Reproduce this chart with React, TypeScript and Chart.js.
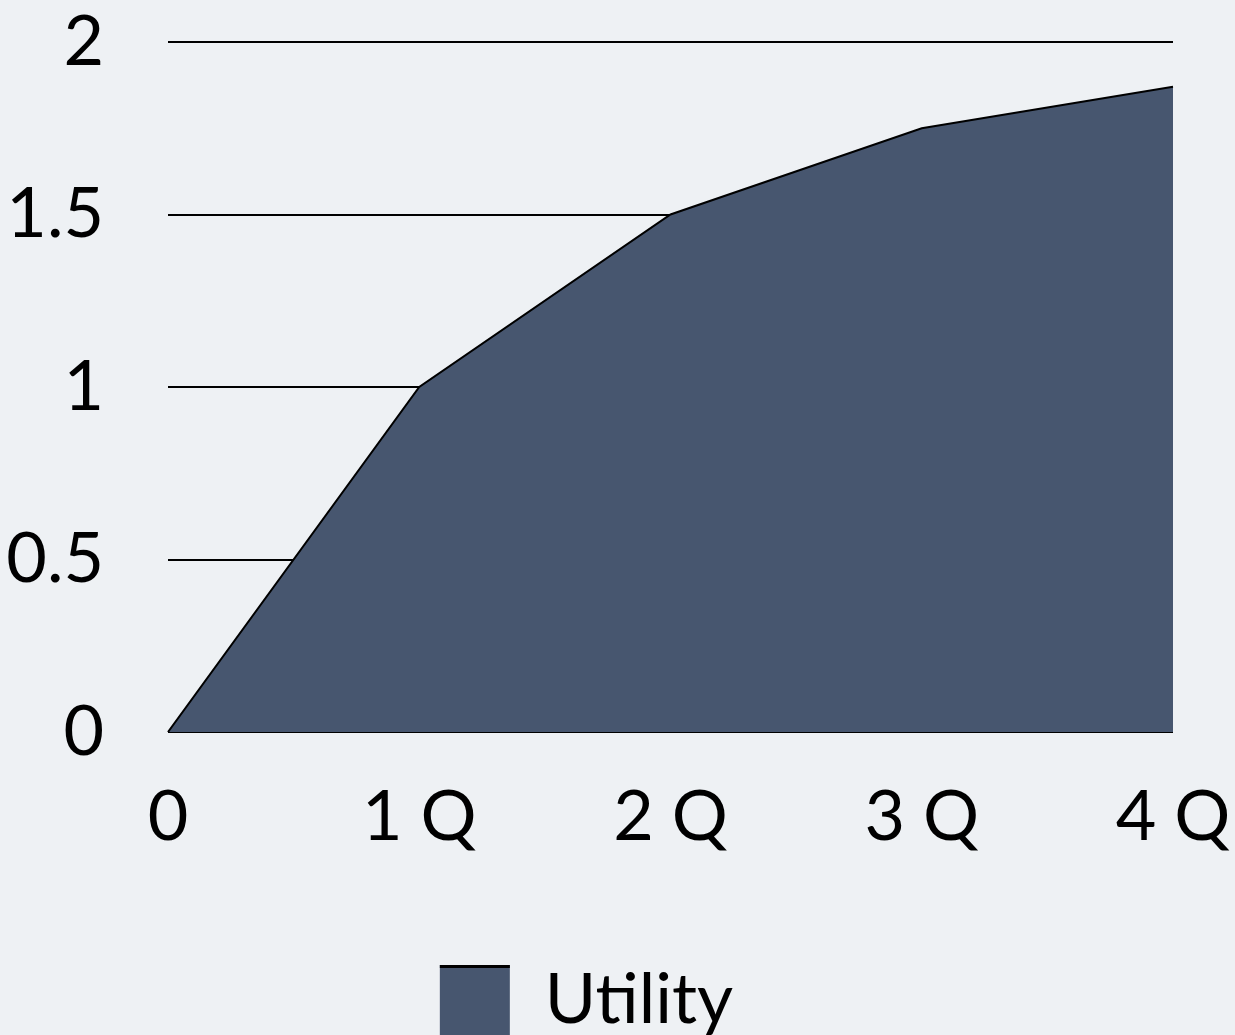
import React, { useEffect, useRef } from "react";
import { Chart, registerables } from "chart.js";

Chart.register(...registerables);

const categories = ["0", "1 Q", "2 Q", "3 Q", "4 Q"];
const utilityValues = [0, 1, 1.5, 1.75, 1.87];
const seriesName = "Utility";
const yTickLabels: Record<string, string> = { "0": "0", "0.5": "0.5", "1": "1", "1.5": "1.5", "2": "2" };

const FONT = "Lato, 'Open Sans', sans-serif";

const legendTopLine = {
  id: "legendTopLine",
  afterDraw(chart: any) {
    const lg = chart.legend;
    if (!lg || !lg.legendHitBoxes || !lg.legendHitBoxes.length) return;
    const hb = lg.legendHitBoxes[0];
    const ctx = chart.ctx;
    ctx.save();
    ctx.strokeStyle = "#000";
    ctx.lineWidth = 3;
    ctx.beginPath();
    ctx.moveTo(hb.left, hb.top + 1.5);
    ctx.lineTo(hb.left + 70, hb.top + 1.5);
    ctx.stroke();
    ctx.restore();
  },
};

export default function App() {
  const ref = useRef<HTMLCanvasElement | null>(null);

  useEffect(() => {
    if (!ref.current) return;
    const chart = new Chart(ref.current, {
      type: "line",
      data: {
        labels: categories,
        datasets: [
          {
            label: seriesName,
            data: utilityValues,
            fill: "origin",
            backgroundColor: "#47566f",
            borderColor: "#000000",
            borderWidth: 2,
            tension: 0,
            pointRadius: 0,
          },
        ],
      },
      plugins: [legendTopLine],
      options: {
        animation: false,
        responsive: false,
        maintainAspectRatio: false,
        layout: { padding: { left: 0, right: 62, top: 42, bottom: 0 } },
        plugins: {
          tooltip: { enabled: false },
          legend: {
            position: "bottom",
            labels: {
              boxWidth: 70,
              boxHeight: 70,
              color: "#000",
              font: { family: FONT, size: 70 },
              generateLabels: (c: any) =>
                (Chart.defaults.plugins.legend.labels as any)
                  .generateLabels(c)
                  .map((l: any) => ({ ...l, lineWidth: 0, strokeStyle: "rgba(0,0,0,0)" })),
            },
          },
        },
        scales: {
          x: {
            type: "category",
            offset: false,
            grid: { display: false, drawTicks: false },
            border: { display: false },
            ticks: {
              color: "#000",
              font: { family: FONT, size: 70 },
              padding: 43,
              maxRotation: 0,
              autoSkip: false,
            },
            afterFit: (s: any) => {
              s.height = 223;
              s.paddingLeft = 0;
              s.paddingRight = 0;
            },
          },
          y: {
            min: 0,
            max: 2,
            grid: { color: "#000", lineWidth: 2, drawTicks: false },
            border: { display: false },
            ticks: {
              stepSize: 0.5,
              color: "#000",
              font: { family: FONT, size: 70 },
              padding: 64,
              callback: (v: any) => yTickLabels[String(v)] ?? String(v),
            },
            afterFit: (s: any) => {
              s.width = 168;
              s.paddingTop = 0;
              s.paddingBottom = 0;
            },
          },
        },
      },
    });
    return () => chart.destroy();
  }, []);

  return (
    <div
      style={{
        position: "fixed",
        left: 0,
        top: 0,
        width: 1235,
        height: 1035,
        overflow: "hidden",
        background: "#eef1f4",
      }}
    >
      <canvas ref={ref} width={1235} height={1045} style={{ display: "block" }} />
    </div>
  );
}
